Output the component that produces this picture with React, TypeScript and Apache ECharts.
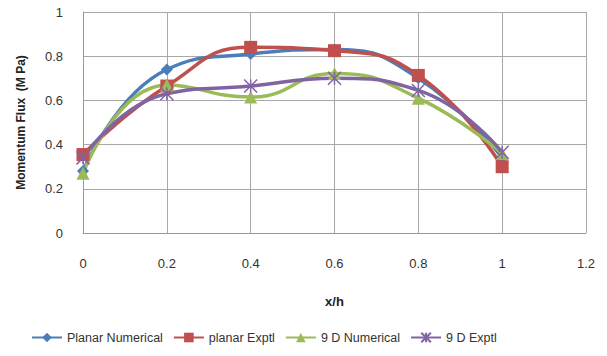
import React, { useEffect, useRef } from "react";
import * as echarts from "echarts";

const xValues = [0, 0.2, 0.4, 0.6, 0.8, 1];
const planarNumerical = [0.28, 0.74, 0.81, 0.83, 0.7, 0.34];
const planarExptl = [0.355, 0.665, 0.84, 0.825, 0.713, 0.3];
const nineDNumerical = [0.27, 0.67, 0.615, 0.722, 0.61, 0.36];
const nineDExptl = [0.34, 0.63, 0.665, 0.7, 0.645, 0.365];

const font = "'Liberation Sans', Arial, sans-serif";

function pairs(ys: number[]) {
  return xValues.map((x, i) => [x, ys[i]]);
}

export default function App() {
  const ref = useRef<HTMLDivElement>(null);
  useEffect(() => {
    if (!ref.current) return;
    document.body.style.margin = "0";
    const chart = echarts.init(ref.current, undefined, { renderer: "svg" });
    const mk = (
      name: string,
      data: number[],
      color: string,
      symbol: string,
      size: number,
      extraItem: Record<string, unknown> = {}
    ) => ({
      name,
      type: "line",
      smooth: 0.5,
      data: pairs(data),
      symbol,
      symbolSize: size,
      showSymbol: true,
      lineStyle: { color, width: 3.5 },
      itemStyle: { color, ...extraItem },
    });
    chart.setOption({
      animation: false,
      backgroundColor: "#ffffff",
      grid: { left: 83, right: 21, top: 12, bottom: 123 },
      xAxis: {
        type: "value",
        min: 0,
        max: 1.2,
        interval: 0.2,
        name: "x/h",
        nameLocation: "middle",
        nameGap: 62,
        nameTextStyle: { fontFamily: font, fontWeight: "bold", fontSize: 13, color: "#222" },
        axisLine: { show: true, lineStyle: { color: "#999" } },
        axisTick: { show: false },
        splitLine: { show: true, lineStyle: { color: "#a8a8a8", width: 1 } },
        axisLabel: {
          fontFamily: font,
          fontSize: 13,
          color: "#333",
          margin: 24,
          formatter: (v: number) => String(Math.round(v * 10) / 10),
        },
      },
      yAxis: {
        type: "value",
        min: 0,
        max: 1,
        interval: 0.2,
        name: "Momentum Flux  (M Pa)",
        nameLocation: "middle",
        nameGap: 56,
        nameTextStyle: { fontFamily: font, fontWeight: "bold", fontSize: 12, color: "#222" },
        axisLine: { show: true, lineStyle: { color: "#999" } },
        axisTick: { show: false },
        splitLine: { show: true, lineStyle: { color: "#a8a8a8", width: 1 } },
        axisLabel: {
          fontFamily: font,
          fontSize: 13,
          color: "#333",
          margin: 20,
          formatter: (v: number) => String(Math.round(v * 10) / 10),
        },
      },
      legend: {
        bottom: 7,
        left: 26,
        itemWidth: 30,
        itemHeight: 12,
        itemGap: 10,
        textStyle: { fontFamily: font, fontSize: 12.5, color: "#333" },
        data: ["Planar Numerical", "planar Exptl", "9 D Numerical", "9 D Exptl"],
      },
      series: [
        mk("Planar Numerical", planarNumerical, "#4a7ebb", "diamond", 12),
        mk("planar Exptl", planarExptl, "#c0504d", "rect", 13),
        mk("9 D Numerical", nineDNumerical, "#9bbb59", "triangle", 13),
        mk(
          "9 D Exptl",
          nineDExptl,
          "#8064a2",
          "path://M0,0L10,10M10,0L0,10M5,0L5,10",
          13,
          { borderColor: "#8064a2", borderWidth: 1.5 }
        ),
      ],
    });
    return () => chart.dispose();
  }, []);
  return <div ref={ref} style={{ width: 607, height: 356 }} />;
}
